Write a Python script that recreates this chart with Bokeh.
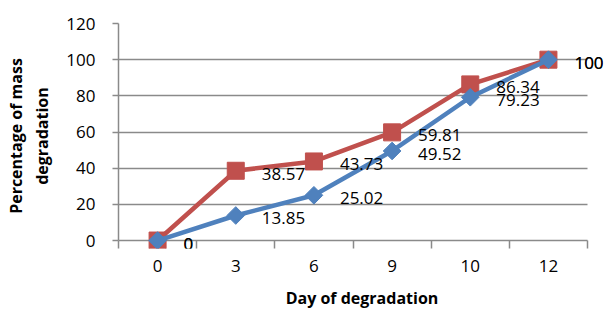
import numpy as np
from bokeh.plotting import figure
from bokeh.models import Range1d, FixedTicker, ColumnDataSource, LabelSet
from bokeh.core.properties import value
from bokeh.embed import file_html
from bokeh.resources import INLINE

days = ["0", "3", "6", "9", "10", "12"]
series_red = [0, 38.57, 43.73, 59.81, 86.34, 100]
series_blue = [0, 13.85, 25.02, 49.52, 79.23, 100]
y_ticks = [0, 20, 40, 60, 80, 100, 120]

RED = "#C0504D"
BLUE = "#4F81BD"
GRID = "#8a8a8a"
FONT = "Open Sans"

idx = list(range(len(days)))
n = len(days)

W, H = 606, 311
p = figure(width=W, height=H, output_backend="svg", toolbar_location=None,
           x_range=Range1d(-0.5, n - 0.5 + 0.23), y_range=Range1d(-4.4, 120),
           min_border_left=118, min_border_right=W - 605, min_border_top=23,
           min_border_bottom=H - 248)
p.outline_line_color = None
p.background_fill_color = "white"
p.border_fill_color = "white"

# grid (the 0 line doubles as the x axis line)
p.xgrid.grid_line_color = None
p.ygrid.ticker = FixedTicker(ticks=y_ticks)
p.ygrid.grid_line_color = GRID
p.ygrid.grid_line_width = 1.5
p.ygrid.cross_bounds = (-0.5, n - 0.5)

# x axis
p.xaxis.bounds = (-0.5, n - 0.5)
p.xaxis.ticker = FixedTicker(ticks=idx, minor_ticks=[i - 0.5 for i in range(n + 1)])
p.xaxis.major_label_overrides = {i: d for i, d in zip(idx, days)}
p.xaxis.major_tick_line_color = None
p.xaxis.major_tick_out = 0
p.xaxis.major_tick_in = 0
p.xaxis.minor_tick_line_color = GRID
p.xaxis.minor_tick_line_width = 1.5
p.xaxis.minor_tick_out = 0
p.xaxis.minor_tick_in = 8
p.xaxis.axis_line_color = None
p.xaxis.major_label_standoff = 11
p.xaxis.major_label_text_font = FONT
p.xaxis.major_label_text_font_size = "17px"
p.xaxis.major_label_text_color = "black"
p.xaxis.axis_label = "Day of degradation"
p.xaxis.axis_label_text_font = FONT
p.xaxis.axis_label_text_font_size = "16px"
p.xaxis.axis_label_text_font_style = "bold"
p.xaxis.axis_label_text_color = "black"
p.xaxis.axis_label_standoff = 12

# y axis
p.yaxis.bounds = (0, 120)
p.yaxis.ticker = FixedTicker(ticks=y_ticks)
p.yaxis.major_tick_line_color = GRID
p.yaxis.major_tick_line_width = 1.5
p.yaxis.major_tick_out = 6
p.yaxis.major_tick_in = 0
p.yaxis.minor_tick_line_color = None
p.yaxis.axis_line_color = GRID
p.yaxis.axis_line_width = 1.5
p.yaxis.major_label_standoff = 17
p.yaxis.major_label_text_font = FONT
p.yaxis.major_label_text_font_size = "17px"
p.yaxis.major_label_text_color = "black"
p.yaxis.axis_label = "Percentage of mass\ndegradation"
p.yaxis.axis_label_text_font = FONT
p.yaxis.axis_label_text_font_size = "16px"
p.yaxis.axis_label_text_font_style = "bold"
p.yaxis.axis_label_text_color = "black"
p.yaxis.axis_label_standoff = 10

src_r = ColumnDataSource(dict(x=idx, y=series_red, t=[f"{v:g}" for v in series_red]))
src_b = ColumnDataSource(dict(x=idx, y=series_blue, t=[f"{v:g}" for v in series_blue]))

p.line("x", "y", source=src_r, line_color=RED, line_width=4.5)
p.scatter("x", "y", source=src_r, marker="square", size=17, fill_color=RED, line_color=RED)
p.line("x", "y", source=src_b, line_color=BLUE, line_width=4.5)
p.scatter("x", "y", source=src_b, marker="square", angle=np.pi / 4, size=12.5,
          fill_color=BLUE, line_color=BLUE)

for src in (src_r, src_b):
    p.add_layout(LabelSet(x="x", y="y", text="t", source=src, x_offset=26, y_offset=-3,
                          text_align="left", text_baseline="middle",
                          text_font=value(FONT), text_font_size=value("17px"),
                          text_color="black"))

open("out.html", "w").write(file_html(p, INLINE))
